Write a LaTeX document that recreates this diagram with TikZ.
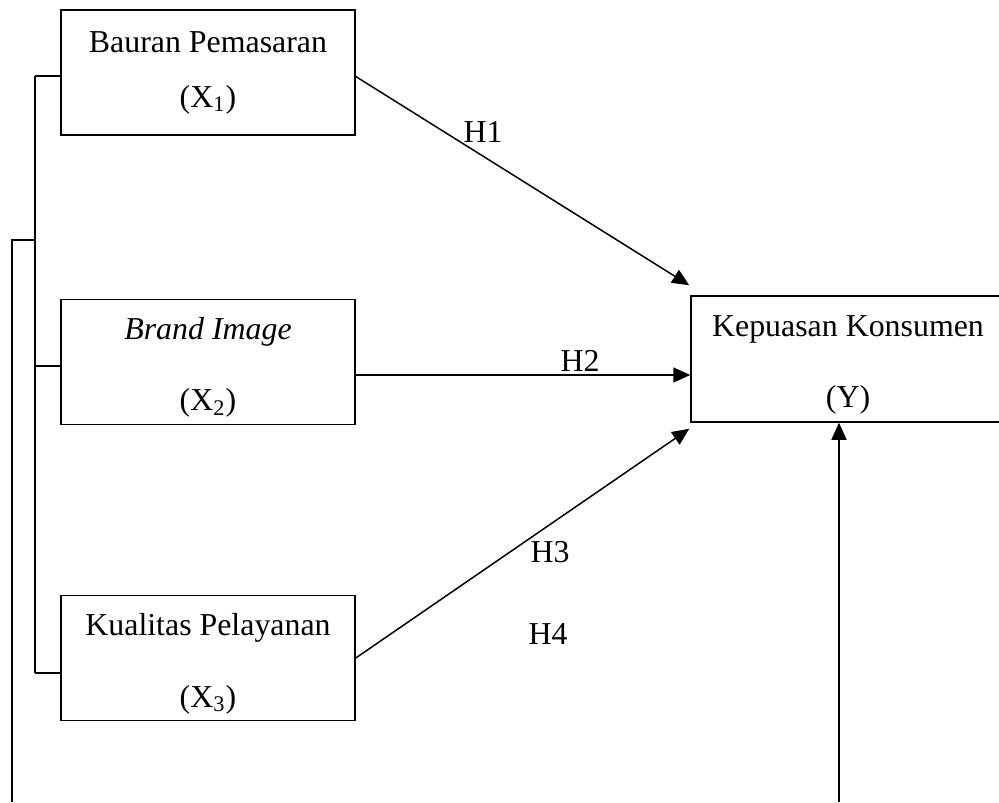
\documentclass[tikz,border=0pt]{standalone}
\usepackage{fontspec}
\setmainfont{Liberation Serif}
\usepackage{tikz}
\usetikzlibrary{arrows.meta}

\tikzset{
  varbox/.style={draw, line width=0.6pt, rectangle, align=center, inner sep=0pt,
    minimum width=117.6pt, minimum height=50pt, font=\fontsize{12.75}{15.4}\selectfont},
  hlabel/.style={font=\fontsize{12.75}{15.4}\selectfont, inner sep=0pt},
  arr/.style={line width=0.6pt, -{Triangle[length=6.8pt,width=6pt]}},
  bus/.style={line width=0.6pt}
}

\begin{document}
\begin{tikzpicture}[x=0.4pt,y=-0.4pt]
\useasboundingbox (0,0) rectangle (999,802);

\node[varbox] (x1) at (208,72.5) {Bauran Pemasaran\\[6.6pt](X\textsubscript{1})};
\node[varbox] (x2) at (208,362) {\rule{0pt}{13.5pt}\textit{Brand Image}\\[13pt](X\textsubscript{2})};
\node[varbox] (x3) at (208,658) {\rule{0pt}{13.5pt}Kualitas Pelayanan\\[13pt](X\textsubscript{3})};
\node[varbox, minimum width=125.6pt, minimum height=50.4pt] (y) at (848,359)
  {\rule{0pt}{13.5pt}Kepuasan Konsumen\\[13pt](Y)};

\node[hlabel] (h1) at (483,132) {H1};
\node[hlabel] (h2) at (580,361) {H2};
\node[hlabel] (h3) at (550,552) {H3};
\node[hlabel] (h4) at (548,634) {H4};

% left bracket
\coordinate (b1) at (35,76);
\coordinate (b2) at (35,366);
\coordinate (b3) at (35,673);
\coordinate (bj) at (35,240);
\coordinate (ob) at (12,802);
\draw[bus] (b1) -- (b3);
\draw[bus] (b1) -- (b1 -| x1.west);
\draw[bus] (b2) -- (b2 -| x2.west);
\draw[bus] (b3) -- (b3 -| x3.west);
\draw[bus] (ob) |- (bj);

% paths
\coordinate (s1) at (355,76);
\coordinate (s2) at (355,375);
\coordinate (yb) at (839,802);
\draw[arr] (s1) -- ([shift={(-1,-10)}]y.north west);
\draw[arr] (s2) -- (s2 -| y.west);
\draw[arr] (x3.east) -- ([shift={(-1,6)}]y.south west);
\draw[arr] (yb) -- (yb |- y.south);
\end{tikzpicture}
\end{document}
